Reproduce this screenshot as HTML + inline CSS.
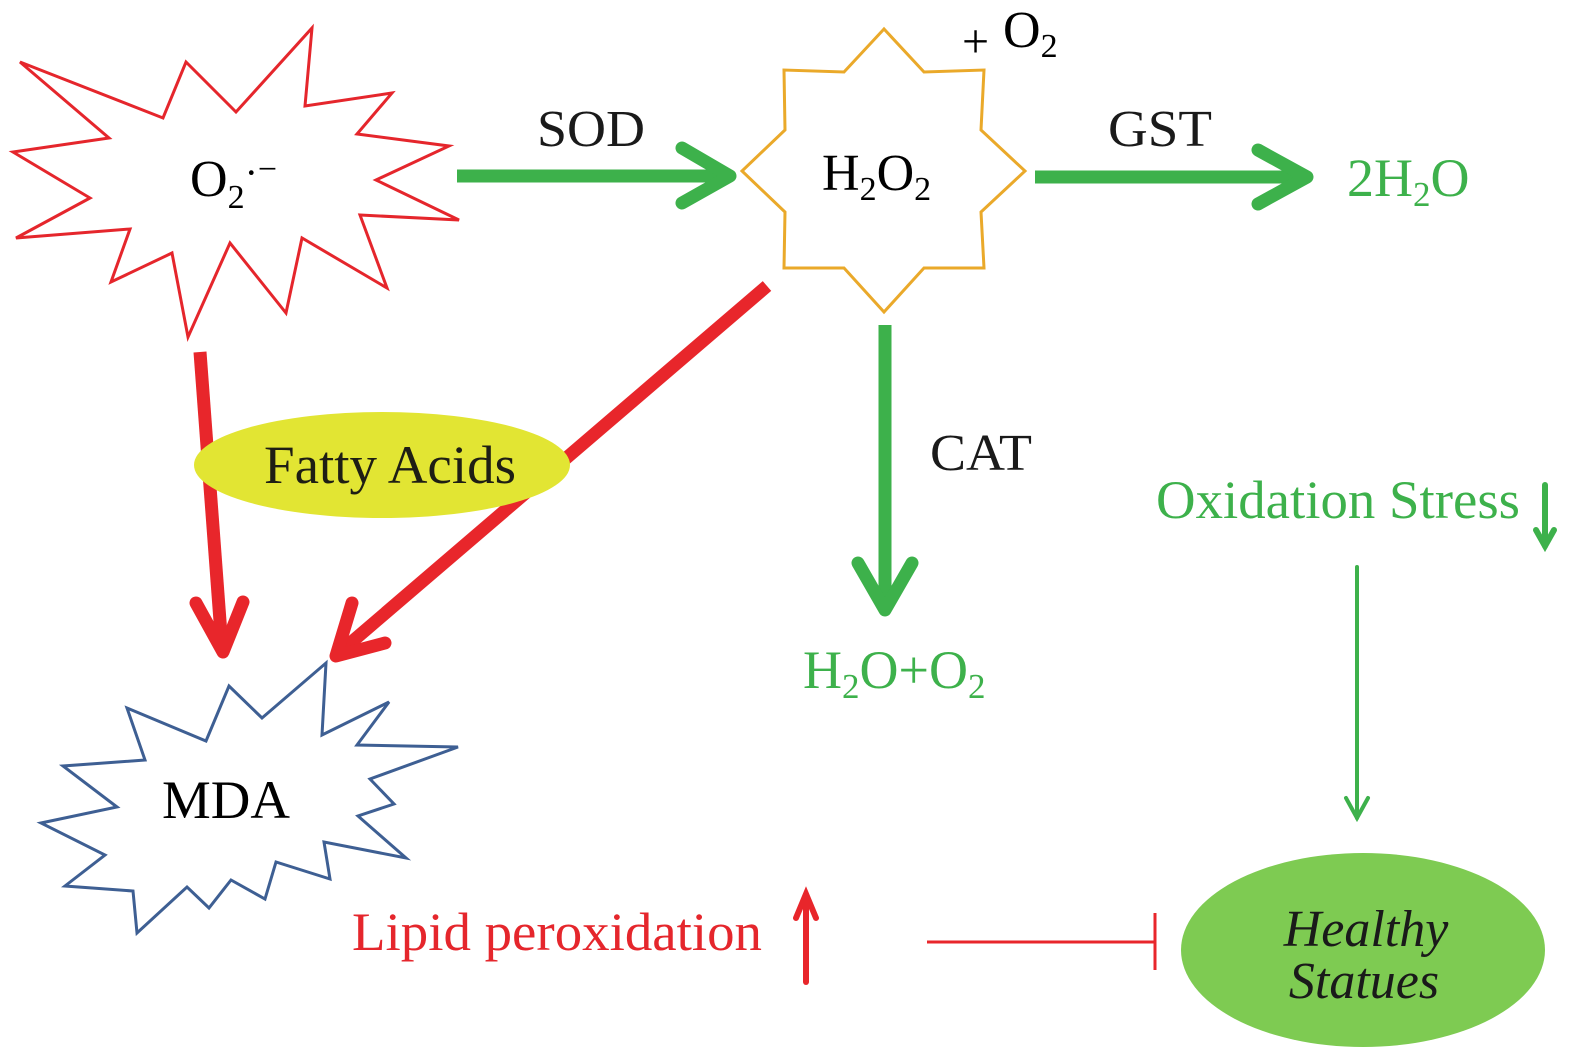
<!DOCTYPE html>
<html><head><meta charset="utf-8"><style>
html,body{margin:0;padding:0;background:#fff;}
svg{display:block;}
text{font-family:"Liberation Serif",serif;}
</style></head><body>
<svg width="1575" height="1055" viewBox="0 0 1575 1055" xmlns="http://www.w3.org/2000/svg">
<polygon points="20,62 163,118 186,62 236,112 312,28 305,106 392,93 357,134 449,146 376,180 459,220 360,215 387,288 302,238 286,313 230,243 188,337 172,253 111,282 130,229 16,238 90,198 13,152 109,138" fill="#fff" stroke="#e5262c" stroke-width="3"/>
<text x="190" y="196" font-size="52">O<tspan font-size="34" dy="12">2</tspan><tspan font-size="40" dy="-22">·</tspan><tspan font-size="34" dy="-6">−</tspan></text>
<polygon points="884,29 844,72 784,70 785,130 742,171 785,212 784,268 844,268 884,312 924,268 984,268 981,212 1025,171 981,130 984,70 924,72" fill="#fff" stroke="#eaa92a" stroke-width="3"/>
<text x="822" y="190" font-size="52">H<tspan font-size="34" dy="10">2</tspan><tspan dy="-10">O</tspan><tspan font-size="34" dy="10">2</tspan></text>
<text x="962" y="57" font-size="48">+</text>
<text x="1003" y="47" font-size="52">O<tspan font-size="34" dy="10">2</tspan></text>
<polygon points="127,708 206,741 229,686 262,718 326,663 322,735 389,702 357,745 458,747 370,779 394,804 358,816 406,858 324,842 330,879 276,862 265,899 231,880 209,908 187,887 137,933 133,891 65,886 105,855 41,823 117,807 63,766 145,760" fill="#fff" stroke="#3e5f93" stroke-width="3"/>
<text x="162" y="818" font-size="54" textLength="128" lengthAdjust="spacingAndGlyphs">MDA</text>
<g stroke="#3db14b" stroke-width="13" fill="none" stroke-linecap="round" stroke-linejoin="round">
<line x1="457" y1="176" x2="728" y2="176" stroke-linecap="butt"/>
<polyline points="682,148 730,176 682,203"/>
<line x1="1035" y1="177" x2="1305" y2="177" stroke-linecap="butt"/>
<polyline points="1258,150 1307,177 1258,204"/>
<line x1="885" y1="325" x2="885" y2="608" stroke-linecap="butt"/>
<polyline points="858,563 885,610 912,563"/>
</g>
<g stroke="#3db14b" fill="none" stroke-linecap="round">
<line x1="1357" y1="567" x2="1357" y2="818" stroke-width="4"/>
<polyline points="1346,798 1357,818 1368,798" stroke-width="4"/>
<line x1="1545" y1="485" x2="1545" y2="546" stroke-width="6"/>
<polyline points="1536,530 1545,546 1554,530" stroke-width="6"/>
</g>
<g stroke="#e8262b" stroke-width="13" fill="none" stroke-linecap="round" stroke-linejoin="round">
<line x1="200" y1="352" x2="222" y2="648" stroke-linecap="butt"/>
<polyline points="196,603 223,652 243,602"/>
<line x1="767" y1="286" x2="340" y2="652" stroke-linecap="butt"/>
<polyline points="352,603 336,656 385,643"/>
</g>
<ellipse cx="382" cy="465" rx="188" ry="53" fill="#e2e533"/>
<text x="264" y="483" font-size="54" fill="#1e1e14" textLength="252" lengthAdjust="spacingAndGlyphs">Fatty Acids</text>
<text x="537" y="146" font-size="52" fill="#1a1a1a" textLength="108" lengthAdjust="spacingAndGlyphs">SOD</text>
<text x="1108" y="146" font-size="52" fill="#1a1a1a" textLength="104" lengthAdjust="spacingAndGlyphs">GST</text>
<text x="930" y="470" font-size="52" fill="#1a1a1a" textLength="102" lengthAdjust="spacingAndGlyphs">CAT</text>
<g fill="#3db14b">
<text x="1347" y="196" font-size="54">2H<tspan font-size="35" dy="10">2</tspan><tspan dy="-10">O</tspan></text>
<text x="803" y="688" font-size="54">H<tspan font-size="35" dy="10">2</tspan><tspan dy="-10">O+O</tspan><tspan font-size="35" dy="10">2</tspan></text>
<text x="1156" y="518" font-size="54" textLength="364" lengthAdjust="spacingAndGlyphs">Oxidation Stress</text>
</g>
<text x="352" y="950" font-size="54" fill="#e5262c" textLength="410" lengthAdjust="spacingAndGlyphs">Lipid peroxidation</text>
<g stroke="#e8262b" fill="none" stroke-linecap="round">
<line x1="806" y1="982" x2="806" y2="896" stroke-width="6"/>
<polyline points="796,918 806,894 816,918" stroke-width="6"/>
<line x1="927" y1="942" x2="1155" y2="942" stroke-width="3" stroke-linecap="butt"/>
<line x1="1155" y1="913" x2="1155" y2="970" stroke-width="3" stroke-linecap="butt"/>
</g>
<ellipse cx="1363" cy="950" rx="182" ry="97" fill="#7ecb52"/>
<text x="1366" y="946" font-size="52" font-style="italic" fill="#1a1a1a" text-anchor="middle">Healthy</text>
<text x="1364" y="998" font-size="52" font-style="italic" fill="#1a1a1a" text-anchor="middle">Statues</text>
</svg>
</body></html>
